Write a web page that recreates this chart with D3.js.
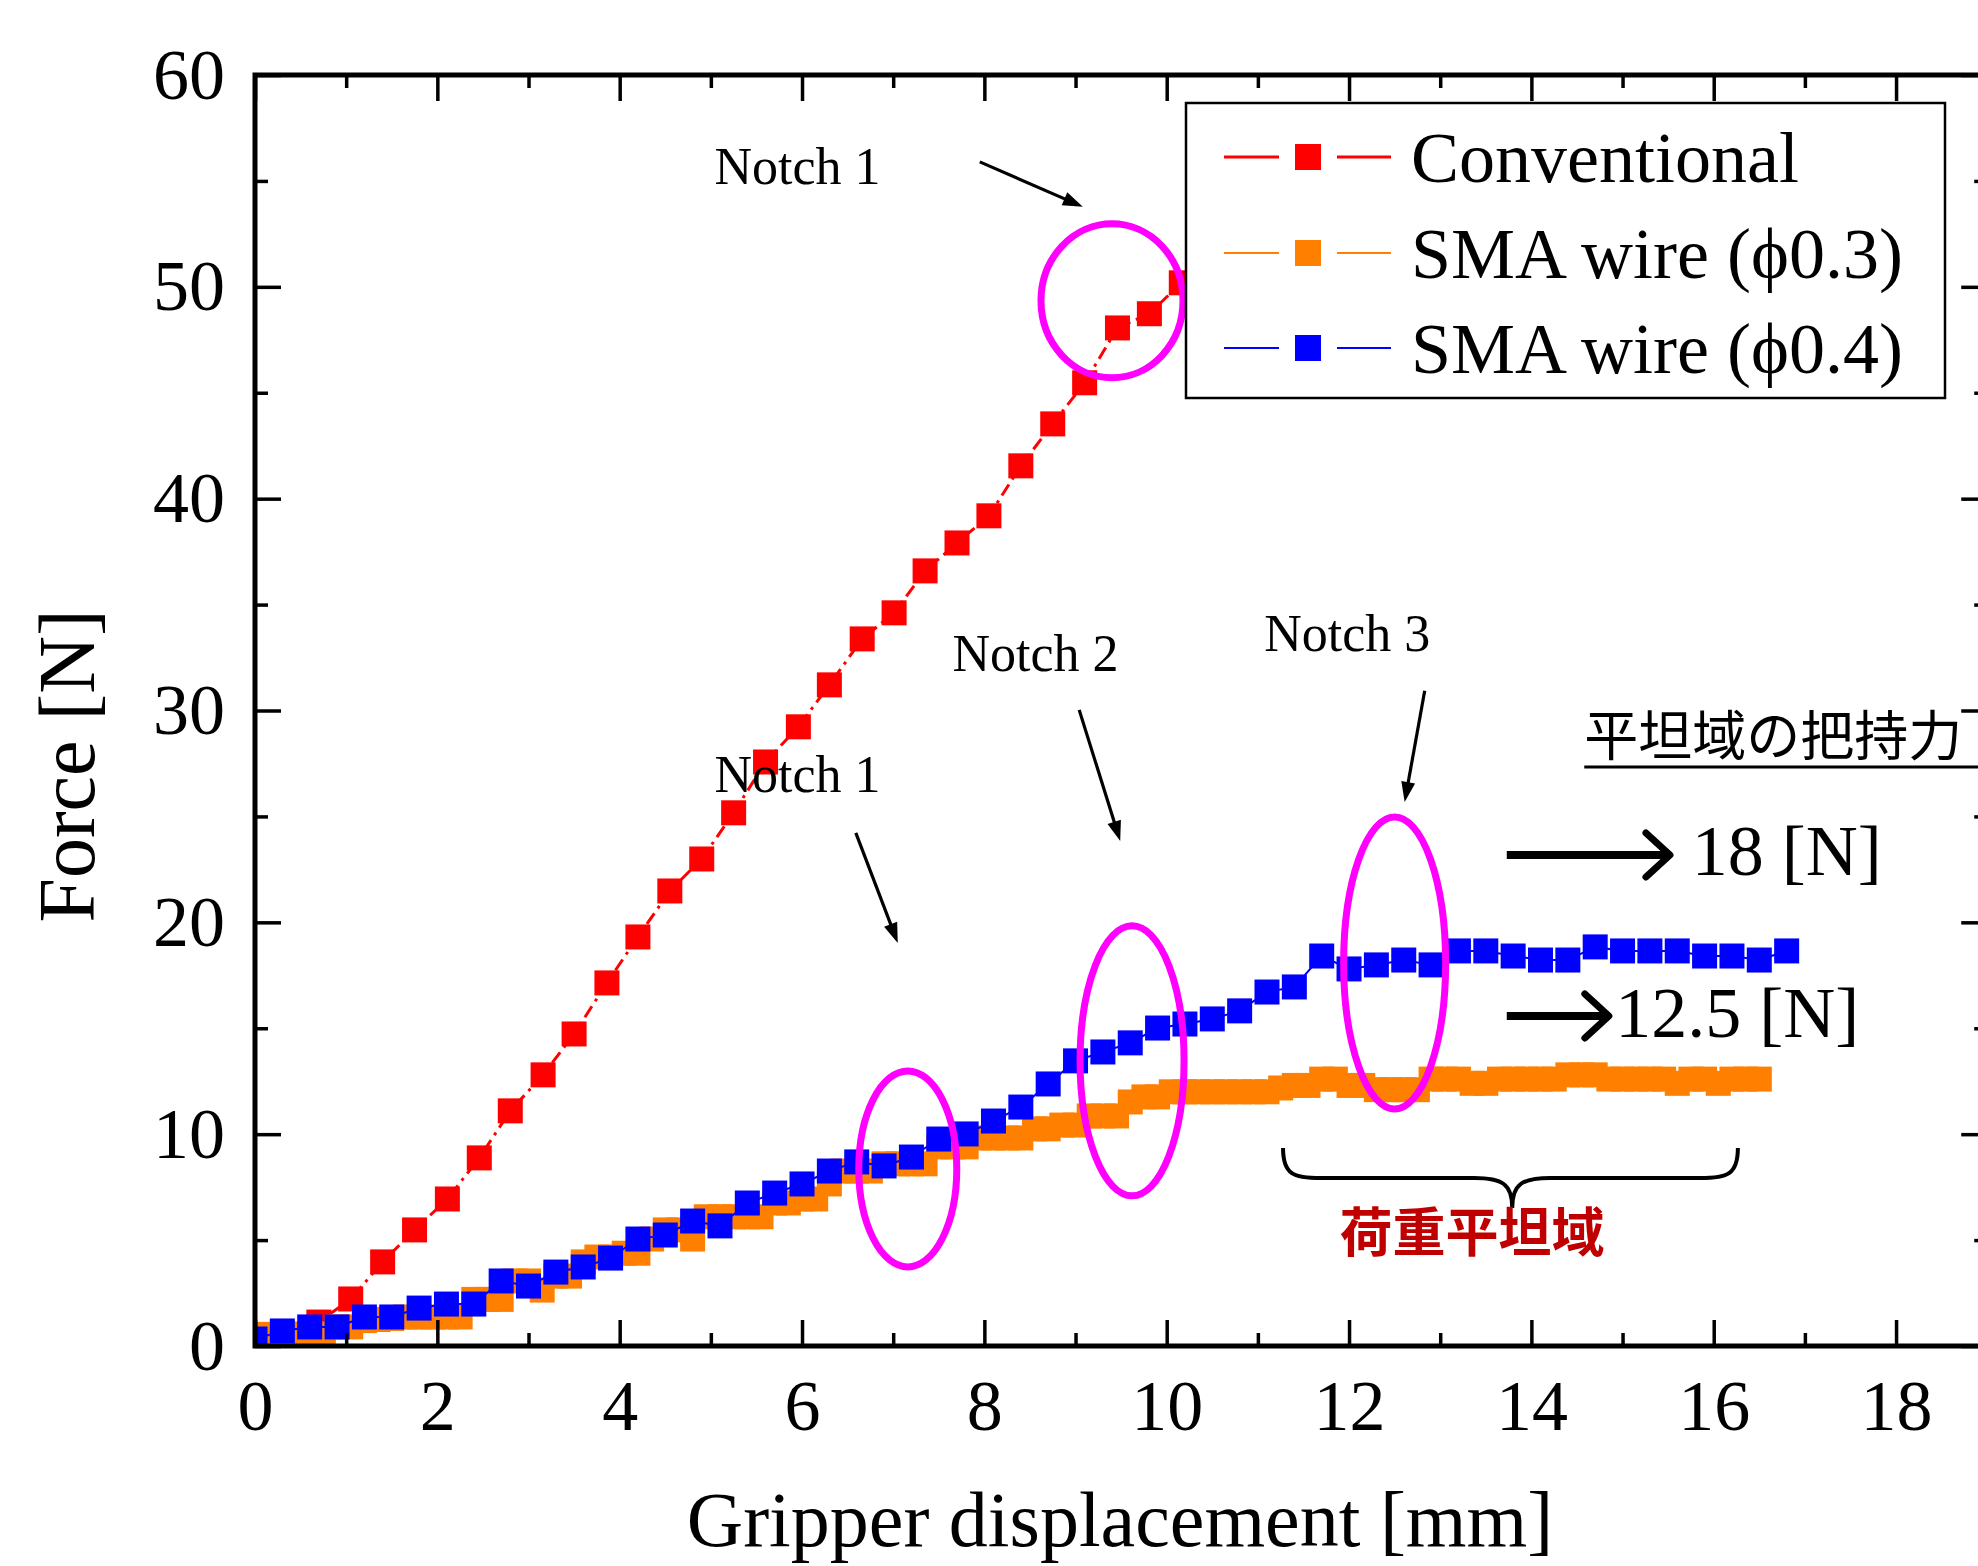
<!DOCTYPE html>
<html><head><meta charset="utf-8">
<script src="https://cdn.jsdelivr.net/npm/d3@7"></script>
<style>html,body{margin:0;padding:0;background:#fff;overflow:hidden}</style>
</head><body>
<svg id="chart" width="1978" height="1566" xmlns="http://www.w3.org/2000/svg"></svg>
<script>
// ---------- data ----------
const xMajorTicks = [0, 2, 4, 6, 8, 10, 12, 14, 16, 18];
const xMinorTicks = [1, 3, 5, 7, 9, 11, 13, 15, 17, 19];
const yMajorTicks = [0, 10, 20, 30, 40, 50, 60];
const yMinorTicks = [5, 15, 25, 35, 45, 55];

const seriesNames = ["Conventional", "SMA wire (\u03D50.3)", "SMA wire (\u03D50.4)"];
const seriesColors = ["#ff0000", "#ff8000", "#0000ff"];

const conventionalX = [0, 0.35, 0.70, 1.05, 1.40, 1.75, 2.11, 2.46, 2.80, 3.16,
  3.50, 3.86, 4.20, 4.55, 4.90, 5.25, 5.60, 5.96, 6.30, 6.66,
  7.01, 7.35, 7.70, 8.05, 8.40, 8.75, 9.10, 9.46, 9.81, 10.16];
const conventionalY = [0, 0.28, 1.13, 2.22, 3.97, 5.48, 6.94, 8.88, 11.10, 12.80,
  14.73, 17.14, 19.31, 21.48, 22.99, 25.17, 27.57, 29.23, 31.21, 33.38,
  34.61, 36.59, 37.91, 39.19, 41.55, 43.53, 45.47, 48.06, 48.73, 50.19];

const sma03X = [0, 0.15, 0.3, 0.45, 0.6, 0.75, 0.9, 1.05, 1.2, 1.35,
  1.5, 1.65, 1.8, 1.95, 2.1, 2.25, 2.4, 2.55, 2.7, 2.85,
  3, 3.15, 3.3, 3.45, 3.6, 3.75, 3.9, 4.05, 4.2, 4.35,
  4.5, 4.65, 4.8, 4.95, 5.1, 5.25, 5.4, 5.55, 5.7, 5.85,
  6, 6.15, 6.3, 6.45, 6.6, 6.75, 6.9, 7.05, 7.2, 7.35,
  7.5, 7.65, 7.8, 7.95, 8.1, 8.25, 8.4, 8.55, 8.7, 8.85,
  9, 9.15, 9.3, 9.45, 9.6, 9.75, 9.9, 10.05, 10.2, 10.35,
  10.5, 10.65, 10.8, 10.95, 11.1, 11.25, 11.4, 11.55, 11.7, 11.85,
  12, 12.15, 12.3, 12.45, 12.6, 12.75, 12.9, 13.05, 13.2, 13.35,
  13.5, 13.65, 13.8, 13.95, 14.1, 14.25, 14.4, 14.55, 14.7, 14.85,
  15, 15.15, 15.3, 15.45, 15.6, 15.75, 15.9, 16.05, 16.2, 16.35,
  16.5];
const sma03Y = [0.45, 0.55, 0.65, 0.57, 0.57, 0.57, 0.90, 0.90, 1.20, 1.25,
  1.30, 1.37, 1.37, 1.37, 1.37, 1.37, 2.20, 2.20, 2.20, 3.07,
  3.07, 2.64, 3.30, 3.30, 3.97, 4.20, 4.20, 4.38, 4.38, 5.05,
  5.48, 5.48, 5.05, 6.10, 6.10, 6.10, 6.10, 6.10, 6.75, 6.75,
  6.94, 6.94, 7.65, 8.26, 8.26, 8.26, 8.60, 8.60, 8.60, 8.60,
  9.40, 9.40, 9.40, 9.82, 9.82, 9.82, 9.82, 10.25, 10.25, 10.43,
  10.43, 10.86, 10.86, 10.86, 11.52, 11.76, 11.76, 12.00, 12.00, 12.00,
  12.00, 12.00, 12.00, 12.00, 12.00, 12.18, 12.30, 12.30, 12.60, 12.60,
  12.30, 12.30, 12.10, 12.10, 12.10, 12.10, 12.60, 12.60, 12.60, 12.40,
  12.40, 12.60, 12.60, 12.60, 12.60, 12.60, 12.80, 12.80, 12.80, 12.60,
  12.60, 12.60, 12.60, 12.60, 12.40, 12.60, 12.60, 12.40, 12.60, 12.60,
  12.60];

const sma04X = [0, 0.3, 0.6, 0.9, 1.2, 1.5, 1.8, 2.1, 2.4, 2.7,
  3, 3.3, 3.6, 3.9, 4.2, 4.5, 4.8, 5.1, 5.4, 5.7,
  6, 6.3, 6.6, 6.9, 7.2, 7.5, 7.8, 8.1, 8.4, 8.7,
  9, 9.3, 9.6, 9.9, 10.2, 10.5, 10.8, 11.1, 11.4, 11.7,
  12, 12.3, 12.6, 12.9, 13.2, 13.5, 13.8, 14.1, 14.4, 14.7,
  15, 15.3, 15.6, 15.9, 16.2, 16.5, 16.8];
const sma04Y = [0.33, 0.71, 0.90, 0.90, 1.37, 1.37, 1.79, 1.98, 1.98, 3.07,
  2.83, 3.49, 3.73, 4.15, 5.05, 5.24, 5.90, 5.67, 6.75, 7.22,
  7.65, 8.26, 8.69, 8.50, 8.92, 9.77, 10.01, 10.62, 11.28, 12.37,
  13.46, 13.88, 14.31, 15.01, 15.20, 15.44, 15.82, 16.71, 16.95, 18.41,
  17.80, 17.99, 18.22, 17.99, 18.65, 18.65, 18.41, 18.22, 18.22, 18.84,
  18.65, 18.65, 18.65, 18.41, 18.41, 18.22, 18.65];

// annotation anchors (data units)
const notchLabels = [
  {text: "Notch 1", x: 5.04, y: 54.86},
  {text: "Notch 2", x: 7.65, y: 31.87},
  {text: "Notch 3", x: 11.07, y: 32.81},
  {text: "Notch 1", x: 5.04, y: 26.16}
];
const notchArrows = [
  {x1: 7.95, y1: 55.90, x2: 9.08, y2: 53.78},
  {x1: 9.04, y1: 30.03, x2: 9.49, y2: 23.84},
  {x1: 12.83, y1: 30.93, x2: 12.61, y2: 25.68},
  {x1: 6.59, y1: 24.22, x2: 7.05, y2: 19.03}
];
const notchEllipses = [
  {cx: 9.40, cy: 49.34, rx: 71, ry: 77},
  {cx: 7.16, cy: 8.36, rx: 49, ry: 98},
  {cx: 9.62, cy: 13.46, rx: 52, ry: 135},
  {cx: 12.50, cy: 18.08, rx: 51, ry: 146}
];
const plateauValues = [
  {text: "18 [N]", arrowFrom: 13.73, arrowTo: 15.52, y: 23.18, textX: 15.76, textY: 22.24},
  {text: "12.5 [N]", arrowFrom: 13.73, arrowTo: 14.85, y: 15.58, textX: 14.92, textY: 14.58}
];
const plateauTitle = {text: "\u5E73\u5766\u57DF\u306E\u628A\u6301\u529B", x: 14.58, y: 27.85};
const braceRange = {x0: 11.276, x1: 16.265, xm: 13.79, yTop: 9.35, yMid: 7.93, yTip: 6.52};
const braceLabel = {text: "\u8377\u91CD\u5E73\u5766\u57DF", x: 13.35, y: 4.44};

// ---------- layout ----------
const svg = d3.select("#chart");
const L = 255, T = 75, B = 1346, PXU = 91.17;
const R = L + 19 * PXU;
const x = d3.scaleLinear().domain([0, 19]).range([L, R]);
const y = d3.scaleLinear().domain([0, 60]).range([B, T]);
const SERIF = "'Liberation Serif','Times New Roman',serif";
const CJK = "'Noto Sans CJK JP','Noto Sans CJK SC',sans-serif";

svg.append("rect").attr("width", 1978).attr("height", 1566).attr("fill", "#fff");

svg.append("defs").append("clipPath").attr("id", "plotClip")
  .append("rect").attr("x", L).attr("y", T).attr("width", R - L).attr("height", B - T);

// ---------- series ----------
const series = [
  {xs: conventionalX, ys: conventionalY, color: seriesColors[0], dash: "13,6,3,6", lw: 3},
  {xs: sma03X, ys: sma03Y, color: seriesColors[1], dash: null, lw: 2},
  {xs: sma04X, ys: sma04Y, color: seriesColors[2], dash: null, lw: 2}
];
const plotG = svg.append("g").attr("clip-path", "url(#plotClip)");
const line = d3.line().x(d => x(d[0])).y(d => y(d[1]));
const MS = 25;
series.forEach(s => {
  const pts = s.xs.map((v, i) => [v, s.ys[i]]);
  const g = plotG.append("g");
  g.append("path").datum(pts).attr("d", line).attr("fill", "none")
    .attr("stroke", s.color).attr("stroke-width", s.lw)
    .attr("stroke-dasharray", s.dash);
  g.selectAll("rect").data(pts).enter().append("rect")
    .attr("x", d => x(d[0]) - MS / 2).attr("y", d => y(d[1]) - MS / 2)
    .attr("width", MS).attr("height", MS).attr("fill", s.color);
});

// ---------- axes ----------
function styleAxis(g) {
  g.select(".domain").remove();
  g.selectAll(".tick line").attr("stroke", "#000").attr("stroke-width", 3.5);
  g.selectAll("text").attr("font-family", SERIF).attr("font-size", 72).attr("fill", "#000");
}
svg.append("g").attr("transform", `translate(0,${B})`)
  .call(d3.axisBottom(x).tickValues(xMajorTicks).tickSizeInner(-26).tickSizeOuter(0).tickPadding(33).tickFormat(d3.format("d")))
  .call(styleAxis);
svg.append("g").attr("transform", `translate(0,${B})`)
  .call(d3.axisBottom(x).tickValues(xMinorTicks).tickSizeInner(-13).tickSizeOuter(0).tickFormat(""))
  .call(styleAxis);
svg.append("g").attr("transform", `translate(0,${T})`)
  .call(d3.axisTop(x).tickValues(xMajorTicks).tickSizeInner(-26).tickSizeOuter(0).tickFormat(""))
  .call(styleAxis);
svg.append("g").attr("transform", `translate(0,${T})`)
  .call(d3.axisTop(x).tickValues(xMinorTicks).tickSizeInner(-13).tickSizeOuter(0).tickFormat(""))
  .call(styleAxis);
svg.append("g").attr("transform", `translate(${L},0)`)
  .call(d3.axisLeft(y).tickValues(yMajorTicks).tickSizeInner(-26).tickSizeOuter(0).tickPadding(30).tickFormat(d3.format("d")))
  .call(styleAxis);
svg.append("g").attr("transform", `translate(${L},0)`)
  .call(d3.axisLeft(y).tickValues(yMinorTicks).tickSizeInner(-13).tickSizeOuter(0).tickFormat(""))
  .call(styleAxis);
svg.append("g").attr("transform", `translate(${R},0)`)
  .call(d3.axisRight(y).tickValues(yMajorTicks).tickSizeInner(-26).tickSizeOuter(0).tickFormat(""))
  .call(styleAxis);
svg.append("g").attr("transform", `translate(${R},0)`)
  .call(d3.axisRight(y).tickValues(yMinorTicks).tickSizeInner(-13).tickSizeOuter(0).tickFormat(""))
  .call(styleAxis);

svg.append("rect").attr("x", L).attr("y", T).attr("width", R - L).attr("height", B - T)
  .attr("fill", "none").attr("stroke", "#000").attr("stroke-width", 5);

// axis titles
svg.append("text").attr("x", 1120).attr("y", 1546).attr("text-anchor", "middle")
  .attr("font-family", SERIF).attr("font-size", 78).text("Gripper displacement [mm]");
svg.append("text").attr("transform", "translate(94,766) rotate(-90)").attr("text-anchor", "middle")
  .attr("font-family", SERIF).attr("font-size", 80).text("Force [N]");

// ---------- annotations ----------
const ann = svg.append("g");
notchEllipses.forEach(e => {
  ann.append("ellipse").attr("cx", x(e.cx)).attr("cy", y(e.cy)).attr("rx", e.rx).attr("ry", e.ry)
    .attr("fill", "none").attr("stroke", "#ff00ff").attr("stroke-width", 7);
});
notchLabels.forEach(t => {
  ann.append("text").attr("x", x(t.x)).attr("y", y(t.y)).attr("font-family", SERIF)
    .attr("font-size", 52).attr("fill", "#000").text(t.text);
});
notchArrows.forEach(a => {
  const x1 = x(a.x1), y1 = y(a.y1), x2 = x(a.x2), y2 = y(a.y2);
  const dx = x2 - x1, dy = y2 - y1, len = Math.hypot(dx, dy);
  const ux = dx / len, uy = dy / len, hl = 20, hw = 7;
  ann.append("line").attr("x1", x1).attr("y1", y1).attr("x2", x2 - ux * hl * 0.8).attr("y2", y2 - uy * hl * 0.8)
    .attr("stroke", "#000").attr("stroke-width", 3.2);
  const bx = x2 - ux * hl, by = y2 - uy * hl;
  ann.append("path").attr("d", `M${x2},${y2}L${bx - uy * hw},${by + ux * hw}L${bx + uy * hw},${by - ux * hw}Z`)
    .attr("fill", "#000");
});

// plateau title with underline
ann.append("text").attr("x", x(plateauTitle.x)).attr("y", y(plateauTitle.y))
  .attr("font-family", CJK).attr("font-size", 54).attr("fill", "#000").text(plateauTitle.text);
ann.append("line").attr("x1", x(plateauTitle.x)).attr("x2", 1978)
  .attr("y1", y(plateauTitle.y) + 11).attr("y2", y(plateauTitle.y) + 11)
  .attr("stroke", "#000").attr("stroke-width", 3);

plateauValues.forEach(p => {
  const yy = y(p.y), xa = x(p.arrowFrom), xb = x(p.arrowTo);
  ann.append("line").attr("x1", xa).attr("x2", xb - 3).attr("y1", yy).attr("y2", yy)
    .attr("stroke", "#000").attr("stroke-width", 8);
  ann.append("path").attr("d", `M${xb - 24},${yy - 22}L${xb},${yy}L${xb - 24},${yy + 22}`)
    .attr("fill", "none").attr("stroke", "#000").attr("stroke-width", 7)
    .attr("stroke-linecap", "round").attr("stroke-linejoin", "round");
  ann.append("text").attr("x", x(p.textX)).attr("y", y(p.textY)).attr("font-family", SERIF)
    .attr("font-size", 72).attr("fill", "#000").text(p.text);
});

// brace
{
  const b = braceRange;
  const x0 = x(b.x0), x1 = x(b.x1), xm = x(b.xm), yt = y(b.yTop), ym = y(b.yMid), yp = y(b.yTip);
  const d = `M${x0},${yt} C${x0},${ym - 4} ${x0 + 10},${ym} ${x0 + 38},${ym} L${xm - 38},${ym} ` +
    `C${xm - 10},${ym} ${xm},${ym + 6} ${xm},${yp} C${xm},${ym + 6} ${xm + 10},${ym} ${xm + 38},${ym} ` +
    `L${x1 - 38},${ym} C${x1 - 10},${ym} ${x1},${ym - 4} ${x1},${yt}`;
  ann.append("path").attr("d", d).attr("fill", "none").attr("stroke", "#000").attr("stroke-width", 4);
}
ann.append("text").attr("x", x(braceLabel.x)).attr("y", y(braceLabel.y)).attr("text-anchor", "middle")
  .attr("font-family", CJK).attr("font-weight", "bold").attr("font-size", 53).attr("fill", "#c00000")
  .text(braceLabel.text);

// ---------- legend ----------
const lg = svg.append("g");
lg.append("rect").attr("x", 1186).attr("y", 103).attr("width", 759).attr("height", 295)
  .attr("fill", "#fff").attr("stroke", "#000").attr("stroke-width", 2.5);
const rowY = [157, 253, 348];
seriesNames.forEach((name, i) => {
  const yy = rowY[i];
  const lw = i === 0 ? 3 : 2;
  lg.append("line").attr("x1", 1224).attr("x2", 1279).attr("y1", yy).attr("y2", yy)
    .attr("stroke", seriesColors[i]).attr("stroke-width", lw);
  lg.append("line").attr("x1", 1337).attr("x2", 1391).attr("y1", yy).attr("y2", yy)
    .attr("stroke", seriesColors[i]).attr("stroke-width", lw);
  lg.append("rect").attr("x", 1295).attr("y", yy - 13).attr("width", 26).attr("height", 26)
    .attr("fill", seriesColors[i]);
  lg.append("text").attr("x", 1411).attr("y", yy + 25).attr("font-family", SERIF)
    .attr("font-size", 72).attr("fill", "#000").text(name);
});
</script>
</body></html>
